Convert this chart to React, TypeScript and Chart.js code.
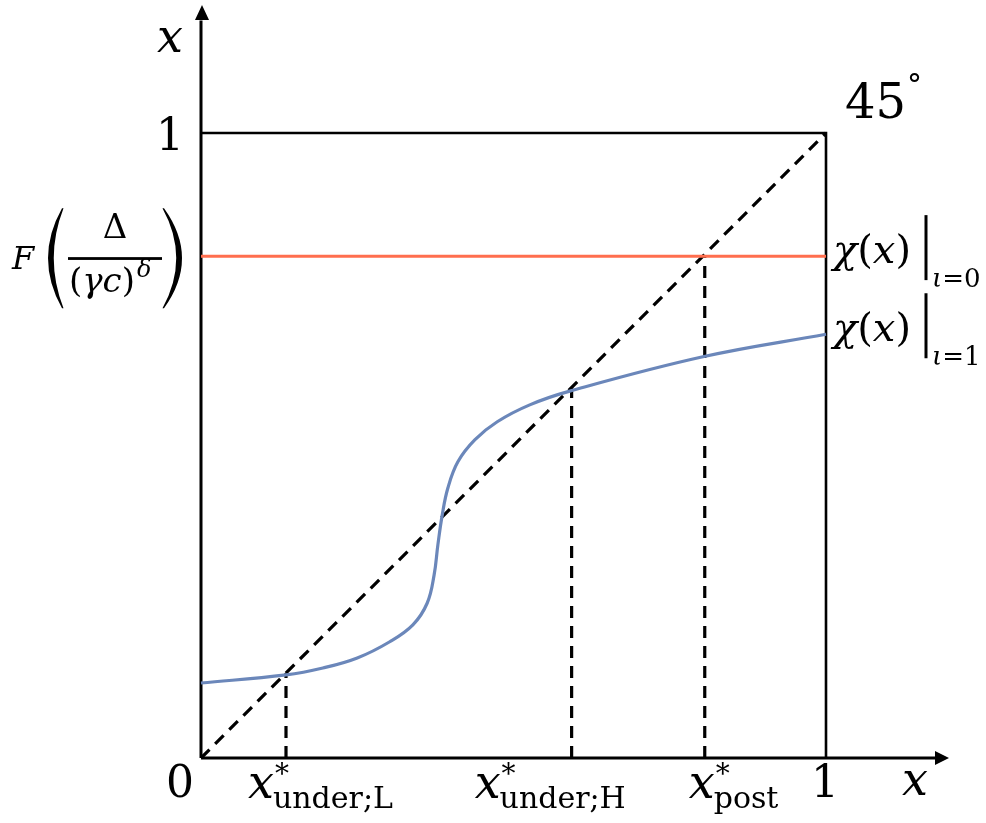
import React, { useEffect, useRef } from "react";
import { Chart, registerables } from "chart.js";

Chart.register(...registerables);

// ---- data ----
const CURVE_X = [0, 0.136, 0.195, 0.25, 0.302, 0.339, 0.362, 0.373, 0.379, 0.386, 0.395, 0.411, 0.438, 0.474, 0.526, 0.59, 0.803, 1];
const CURVE_Y = [0.12, 0.133, 0.144, 0.16, 0.186, 0.213, 0.248, 0.293, 0.341, 0.389, 0.432, 0.474, 0.509, 0.538, 0.565, 0.587, 0.642, 0.678];
const ORANGE_LEVEL = 0.803;
const X_UNDER_L = 0.136;
const X_UNDER_H = 0.593;
const X_POST = 0.806;
const AXIS_MAX = 1.2;
const UNIT = 1;
const SUB_LABELS = ["under;L", "under;H", "post"];
const CHI_SUBS = ["=0", "=1"];

const SERIF = '"DejaVu Serif", serif';
const ORANGE = "#FF6E4E";
const BLUE = "#6B87BA";

const seg = (x0: number, y0: number, x1: number, y1: number) => [
  { x: x0, y: y0 },
  { x: x1, y: y1 },
];

export default function App() {
  const ref = useRef<HTMLCanvasElement>(null);

  useEffect(() => {
    const canvas = ref.current!;
    const base = {
      pointRadius: 0,
      pointHoverRadius: 0,
      clip: false as any,
      tension: 0,
      fill: false,
    };
    const curveData = CURVE_X.map((x, i) => ({ x, y: CURVE_Y[i] }));

    const annot = {
      id: "annot",
      afterDatasetsDraw(chart: any) {
        const ctx: CanvasRenderingContext2D = chart.ctx;
        const xs = chart.scales.x;
        const ys = chart.scales.y;
        const px = (v: number) => xs.getPixelForValue(v);
        const py = (v: number) => ys.getPixelForValue(v);
        ctx.save();
        ctx.fillStyle = "#000";
        ctx.strokeStyle = "#000";

        const x0 = px(0), y0 = py(0), xe = px(AXIS_MAX), ye = py(AXIS_MAX);
        const x1 = px(UNIT), y1 = py(UNIT);

        // arrowheads
        ctx.beginPath();
        ctx.moveTo(xe - 2, y0);
        ctx.lineTo(xe - 16, y0 - 7);
        ctx.lineTo(xe - 16, y0 + 7);
        ctx.closePath();
        ctx.fill();
        ctx.beginPath();
        ctx.moveTo(x0 + 1, ye - 3);
        ctx.lineTo(x0 - 6, ye + 12);
        ctx.lineTo(x0 + 8, ye + 12);
        ctx.closePath();
        ctx.fill();

        const txt = (s: string, x: number, y: number, size: number, italic = false, align: CanvasTextAlign = "left") => {
          ctx.font = `${italic ? "italic " : ""}${size}px ${SERIF}`;
          ctx.textAlign = align;
          ctx.textBaseline = "alphabetic";
          ctx.fillText(s, x, y);
          return ctx.measureText(s).width;
        };
        const runs = (x: number, y: number, parts: [string, number, boolean][]) => {
          let cx = x;
          for (const [s, size, it] of parts) cx += txt(s, cx, y, size, it);
          return cx;
        };

        // axis labels
        txt("x", x0 - 31, ye + 44, 46, true, "center");
        txt("1", x0 - 31, y1 + 17, 44, false, "center");
        txt("0", x0 - 21, y0 + 39, 44, false, "center");
        txt("1", x1 - 1, y0 + 39, 44, false, "center");
        txt("x", xe - 36, y0 + 37, 46, true, "center");

        // 45°
        const w45 = txt("45", x1 + 19, y1 - 15, 48);
        txt("°", x1 + 19 + w45 + 1, y1 - 38, 30);

        // x* labels
        const xs3 = [X_UNDER_L, X_UNDER_H, X_POST];
        const offs = [-38, -97, -16];
        xs3.forEach((v, i) => {
          const left = px(v) + offs[i];
          const wx = txt("x", left, y0 + 40, 46, true);
          txt("*", left + wx + 1, y0 + 25, 28);
          txt(SUB_LABELS[i], left + wx - 1, y0 + 50, 30);
        });

        // chi labels
        const levels = [ORANGE_LEVEL, CURVE_Y[CURVE_Y.length - 1]];
        levels.forEach((lv, i) => {
          const Y = py(lv);
          runs(x1 + 7, Y + 7, [
            ["χ", 40, true],
            ["(", 40, false],
            ["x", 40, true],
            [")", 40, false],
          ]);
          ctx.lineWidth = 3;
          ctx.beginPath();
          ctx.moveTo(x1 + 100, Y - 41);
          ctx.lineTo(x1 + 100, Y + 24);
          ctx.stroke();
          runs(x1 + 106, Y + 31, [
            ["ι", 26, true],
            [CHI_SUBS[i], 26, false],
          ]);
        });

        // F( Δ / (γc)^δ )
        const Y = py(ORANGE_LEVEL);
        txt("F", 12, Y + 13, 32, true);
        const paren = (xe1: number, outer: number, inner: number) => {
          const top = Y - 48, bot = Y + 52, mid = (top + bot) / 2;
          const cOuter = 2 * outer - xe1;
          const cInner = 2 * inner - xe1;
          const s = outer < xe1 ? 1 : -1;
          ctx.beginPath();
          ctx.moveTo(xe1, top);
          ctx.quadraticCurveTo(cOuter, mid, xe1, bot);
          ctx.lineTo(xe1 + s * 1.5, bot);
          ctx.quadraticCurveTo(cInner, mid, xe1 + s * 1.5, top);
          ctx.closePath();
          ctx.fill();
        };
        paren(62, 48, 53);
        paren(164, 182, 177);
        txt("Δ", 115, Y - 18, 34, false, "center");
        ctx.fillRect(68, Y + 1, 94, 2.8);
        const endX = runs(69, Y + 36, [
          ["(", 34, false],
          ["γ", 34, true],
          ["c", 34, true],
          [")", 34, false],
        ]);
        txt("δ", endX + 2, Y + 21, 24, true);

        ctx.restore();
      },
    };

    const dashW = 3.2;
    const chart = new Chart(canvas, {
      type: "line",
      data: {
        datasets: [
          { ...base, data: seg(0, ORANGE_LEVEL, UNIT, ORANGE_LEVEL), borderColor: ORANGE, borderWidth: 3 },
          { ...base, data: curveData, borderColor: BLUE, borderWidth: 3.2, tension: 0.4, cubicInterpolationMode: "default" as any },
          { ...base, data: seg(0, 0, UNIT, UNIT), borderColor: "#000", borderWidth: dashW, borderDash: [12, 8] },
          { ...base, data: seg(X_UNDER_L, 0, X_UNDER_L, X_UNDER_L), borderColor: "#000", borderWidth: dashW, borderDash: [12, 8] },
          { ...base, data: seg(X_UNDER_H, 0, X_UNDER_H, X_UNDER_H), borderColor: "#000", borderWidth: dashW, borderDash: [12, 8] },
          { ...base, data: seg(X_POST, 0, X_POST, ORANGE_LEVEL), borderColor: "#000", borderWidth: dashW, borderDash: [12, 8] },
          {
            ...base,
            data: [
              { x: 0, y: UNIT },
              { x: UNIT, y: UNIT },
              { x: UNIT, y: 0 },
            ],
            borderColor: "#000",
            borderWidth: 2.6,
          },
          { ...base, data: seg(0, 0, AXIS_MAX - 0.02, 0), borderColor: "#000", borderWidth: 3 },
          { ...base, data: seg(0, 0, 0, AXIS_MAX - 0.02), borderColor: "#000", borderWidth: 3 },
        ] as any,
      },
      options: {
        animation: false,
        responsive: false,
        layout: { padding: { left: 201, right: 35, top: 8, bottom: 65 } },
        plugins: { legend: { display: false }, tooltip: { enabled: false } },
        events: [],
        scales: {
          x: { type: "linear", min: 0, max: AXIS_MAX, display: false },
          y: { type: "linear", min: 0, max: AXIS_MAX, display: false },
        },
      },
      plugins: [annot],
    });
    return () => chart.destroy();
  }, []);

  return (
    <div style={{ position: "absolute", left: 0, top: 0, width: 986, height: 823, background: "#fff" }}>
      <canvas ref={ref} width={986} height={823} style={{ display: "block" }} />
    </div>
  );
}
